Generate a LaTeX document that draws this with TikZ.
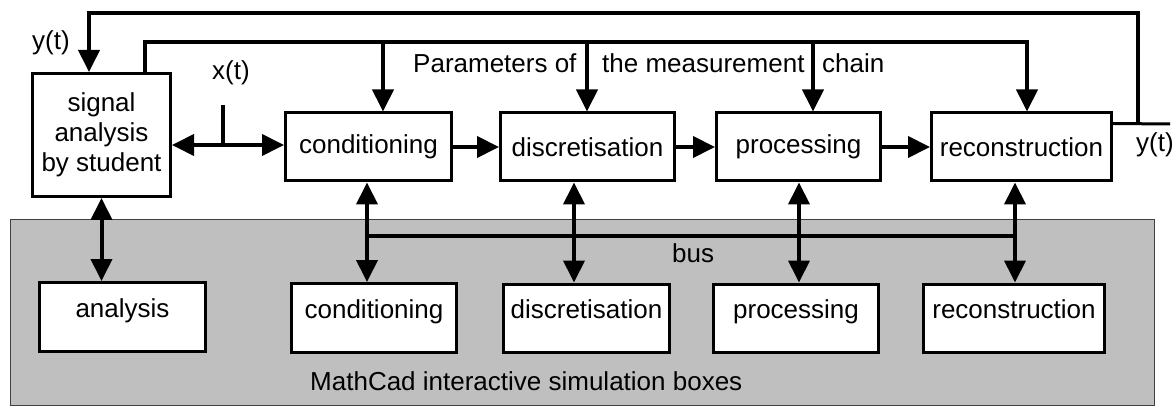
\documentclass[tikz,border=0pt]{standalone}
\usepackage{fontspec}
\setmainfont{Liberation Sans}
\usetikzlibrary{arrows.meta}
\tikzset{
	>={Triangle[length=22pt,width=21pt]},
	every node/.style={font=\fontsize{26}{30}\selectfont},
	block/.style={
		draw,
		line width=3pt,
		fill=white,
		inner sep=0pt},
	lowblock/.style={
		block,
		text height=19pt,
		text depth=19pt},
	sig/.style={line width=4pt},
	lbl/.style={inner sep=0pt, anchor=base west}
}

\begin{document}
\begin{tikzpicture}[x=1pt,y=-1pt]
	\useasboundingbox (0,0) rectangle (1175,406);
	\filldraw[fill=black!25, draw=black!75, line width=1pt] (10,220) rectangle (1154,405);

	\node[block, minimum width=138pt, minimum height=123pt, align=center] (stud) at (101.5,135) {signal\\analysis\\by student};
	\node[block, minimum width=166pt, minimum height=68pt] (cond) at (368.5,147) {conditioning};
	\node[block, minimum width=174pt, minimum height=68pt] (discr) at (587.5,147) {discretisation};
	\node[block, minimum width=164pt, minimum height=68pt] (proc) at (798.5,147) {processing};
	\node[block, minimum width=180pt, minimum height=68pt] (recon) at (1021.5,147) {reconstruction};

	\node[lowblock, minimum width=166pt, minimum height=69pt] (lan) at (122.5,317) {analysis};
	\node[lowblock, minimum width=165pt, minimum height=69pt] (lcond) at (374,318) {conditioning};
	\node[lowblock, minimum width=166pt, minimum height=68pt] (ldiscr) at (586.5,318) {discretisation};
	\node[lowblock, minimum width=165pt, minimum height=68pt] (lproc) at (796,318) {processing};
	\node[lowblock, minimum width=181pt, minimum height=68pt] (lrecon) at (1014,318) {reconstruction};

	\node[lbl] (ylab) at (32,50) {y(t)};
	\node[lbl] (xlab) at (212,80) {x(t)};
	\node[lbl] (yout) at (1136,152) {y(t)};
	\node[lbl] (par1) at (413,73) {Parameters of};
	\node[lbl] (par2) at (602,73) {the measurement};
	\node[lbl] (par3) at (822,73) {chain};
	\node[lbl] (bus) at (672,262) {bus};
	\node[lbl] (mcad) at (310,390) {MathCad interactive simulation boxes};

	% feedback of the output
	\coordinate (fb) at (1138,124);
	\coordinate (ft) at (89,13);
	\coordinate (out) at (1170,124);
	\draw[line width=3pt] ([yshift=-12pt]recon.north east) -- (out);
	\draw[sig,->] (fb) |- (ft) -- (ft |- stud.north);

	% parameters
	\coordinate (pl) at (145,42);
	\coordinate (pr) at (1027,42);
	\draw[sig,->] (pl |- stud.north) |- (pr) -- (pr |- recon.north);
	\foreach \x/\n in {383/cond, 587/discr, 813/proc}{
		\coordinate (pt) at (\x,42);
		\draw[sig,->] (pt) -- (pt |- \n.north);
	}

	% chain
	\coordinate (xj) at (223,145);
	\draw[sig,<->] (stud.east |- xj) -- (cond.west |- xj);
	\draw[sig] (xj) -- ++(0,-40);
	\draw[sig,->] (cond) -- (discr);
	\draw[sig,->] (discr) -- (proc);
	\draw[sig,->] (proc) -- (recon);

	% bus
	\coordinate (b1) at (367,236);
	\coordinate (b2) at (574,236);
	\coordinate (b3) at (799,236);
	\coordinate (b4) at (1015,236);
	\draw[sig] (b1) -- (b4);
	\foreach \b/\u/\l in {b1/cond/lcond, b2/discr/ldiscr, b3/proc/lproc, b4/recon/lrecon}
		\draw[sig,<->] (\b |- \u.south) -- (\b |- \l.north);
	\draw[sig,<->] (stud.south) -- (stud.south |- lan.north);
\end{tikzpicture}
\end{document}
